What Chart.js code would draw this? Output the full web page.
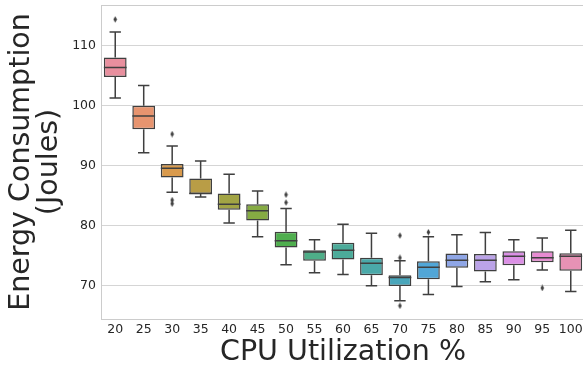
<!DOCTYPE html>
<html>
<head>
<meta charset="utf-8">
<script src="https://cdn.jsdelivr.net/npm/chart.js@4/dist/chart.umd.min.js"></script>
<style>
  html, body { margin: 0; padding: 0; background: #ffffff; overflow: hidden; }
  #wrap { width: 585px; height: 365px; }
</style>
</head>
<body>
<div id="wrap"><canvas id="chart" width="585" height="365"></canvas></div>
<script>
// CPU utilization levels (x categories)
const cpuLevels = ['20', '25', '30', '35', '40', '45', '50', '55', '60', '65', '70', '75', '80', '85', '90', '95', '100'];

// Box-plot summary of energy consumption (Joules) per utilization level
const whiskerLow  = [101.3, 92.2, 85.6, 84.8, 80.5, 78.2, 73.55, 72.2, 71.9, 70.05, 67.55, 68.6, 69.9, 70.7, 71.05, 72.67, 69.1];
const quartile1   = [104.8, 96.1, 88.05, 85.3, 82.7, 80.9, 76.4, 74.2, 74.4, 71.8, 70.0, 71.1, 73.05, 72.4, 73.45, 73.95, 72.55];
const medians     = [106.4, 98.3, 89.6, 85.4, 83.6, 82.55, 77.55, 75.67, 75.95, 73.8, 71.4, 73.1, 74.3, 74.3, 74.95, 74.7, 74.95];
const quartile3   = [108.05, 100.0, 90.3, 87.9, 85.4, 83.6, 79.05, 75.95, 77.2, 74.7, 71.8, 74.1, 75.4, 75.33, 75.8, 75.8, 75.45];
const whiskerHigh = [112.3, 103.4, 93.3, 90.8, 88.6, 85.8, 82.9, 77.7, 80.3, 78.8, 74.2, 78.2, 78.55, 78.9, 77.7, 78.0, 79.3];

// Points beyond the whiskers
const outlierLevels = ['20', '30', '30', '30', '50', '50', '70', '70', '70', '75', '95'];
const outlierValues = [114.4, 95.3, 84.3, 83.7, 85.2, 83.9, 78.4, 74.7, 66.7, 78.95, 69.67];

// Y axis tick values
const yTickValues = [70, 80, 90, 100, 110];

// Box fill colours, one per level
const boxColors = ['#e88f9e', '#e7946f', '#d99a4c', '#b99d46', '#a2a444', '#86ab43', '#4fae4e', '#4eae88', '#4cab9a',
                   '#4aa9a9', '#49a6bb', '#51a6d7', '#8fa6e6', '#bba3e8', '#db90e5', '#e88bd2', '#e792b5'];

const LINE = '#3f3f3f';
const SPINE = '#cccccc';
const FONT = "'DejaVu Sans', sans-serif";

// thin diamond marker for outliers
const diamond = document.createElement('canvas');
diamond.width = 5; diamond.height = 7;
(function () {
  const c = diamond.getContext('2d');
  c.fillStyle = LINE;
  c.beginPath();
  c.moveTo(2.5, 0.3); c.lineTo(4.3, 3.5); c.lineTo(2.5, 6.7); c.lineTo(0.7, 3.5);
  c.closePath(); c.fill();
})();

// whiskers, caps and median lines drawn via the scales
const boxLines = {
  id: 'boxLines',
  afterDatasetsDraw(chart) {
    const { ctx } = chart;
    const y = chart.scales.y;
    const meta = chart.getDatasetMeta(0);
    ctx.save();
    ctx.strokeStyle = LINE;
    ctx.lineWidth = 1.5;
    meta.data.forEach((bar, i) => {
      const cx = bar.x;
      const half = bar.width / 2;
      const capHalf = half / 2;
      const yLo = y.getPixelForValue(whiskerLow[i]);
      const yQ1 = y.getPixelForValue(quartile1[i]);
      const yMed = y.getPixelForValue(medians[i]);
      const yQ3 = y.getPixelForValue(quartile3[i]);
      const yHi = y.getPixelForValue(whiskerHigh[i]);
      ctx.beginPath();
      ctx.moveTo(cx, yQ1); ctx.lineTo(cx, yLo);
      ctx.moveTo(cx, yQ3); ctx.lineTo(cx, yHi);
      ctx.moveTo(cx - capHalf, yLo); ctx.lineTo(cx + capHalf, yLo);
      ctx.moveTo(cx - capHalf, yHi); ctx.lineTo(cx + capHalf, yHi);
      ctx.moveTo(cx - half, yMed); ctx.lineTo(cx + half, yMed);
      ctx.stroke();
    });
    ctx.restore();
  }
};

// top spine of the axes frame
const frame = {
  id: 'frame',
  beforeDatasetsDraw(chart) {
    const { ctx, chartArea } = chart;
    ctx.save();
    ctx.strokeStyle = SPINE;
    ctx.lineWidth = 1;
    ctx.beginPath();
    ctx.moveTo(chartArea.left, Math.round(chartArea.top) + 0.5);
    ctx.lineTo(chartArea.right, Math.round(chartArea.top) + 0.5);
    ctx.stroke();
    ctx.restore();
  }
};

new Chart(document.getElementById('chart'), {
  type: 'bar',
  data: {
    labels: cpuLevels,
    datasets: [
      {
        type: 'bar',
        data: cpuLevels.map((_, i) => [quartile1[i], quartile3[i]]),
        backgroundColor: boxColors,
        borderColor: LINE,
        borderWidth: 1.5,
        borderSkipped: false,
        barPercentage: 0.8,
        categoryPercentage: 1.0,
        order: 2
      },
      {
        type: 'scatter',
        data: outlierLevels.map((lvl, i) => ({ x: lvl, y: outlierValues[i] })),
        pointStyle: diamond,
        pointRadius: 3,
        order: 1
      }
    ]
  },
  options: {
    responsive: false,
    devicePixelRatio: 1,
    animation: false,
    // the axes run a little past the visible right edge
    layout: { autoPadding: false, padding: { top: 5, left: 0, right: 0, bottom: 0 } },
    plugins: { legend: { display: false }, tooltip: { enabled: false } },
    scales: {
      x: {
        type: 'category',
        offset: true,
        grid: { display: false, drawTicks: false },
        border: { display: true, color: SPINE, width: 1 },
        ticks: { color: '#262626', font: { family: FONT, size: 12.5 }, padding: 3, maxRotation: 0, autoSkip: false },
        title: {
          display: true,
          text: 'CPU Utilization %',
          color: '#262626',
          font: { family: FONT, size: 28.5, lineHeight: '24px' },
          padding: { top: 0, bottom: 0 }
        },
        afterFit(scale) { scale.height = 46; scale.paddingLeft = 0; scale.paddingRight = 0; }
      },
      y: {
        type: 'linear',
        min: 64.5,
        max: 116.8,
        grid: { color: '#d5d5d5', lineWidth: 1, drawTicks: false },
        border: { display: true, color: SPINE, width: 1 },
        ticks: { color: '#262626', font: { family: FONT, size: 12.5 }, padding: 5 },
        afterBuildTicks(scale) { scale.ticks = yTickValues.map(v => ({ value: v })); },
        title: {
          display: true,
          text: ['Energy Consumption', '(Joules)'],
          color: '#262626',
          font: { family: FONT, size: 28.5, lineHeight: '28px' },
          padding: { top: 8, bottom: 0 }
        },
        afterFit(scale) { scale.width = 101; scale.paddingTop = 0; scale.paddingBottom = 0; }
      }
    }
  },
  plugins: [frame, boxLines]
});
</script>
</body>
</html>
